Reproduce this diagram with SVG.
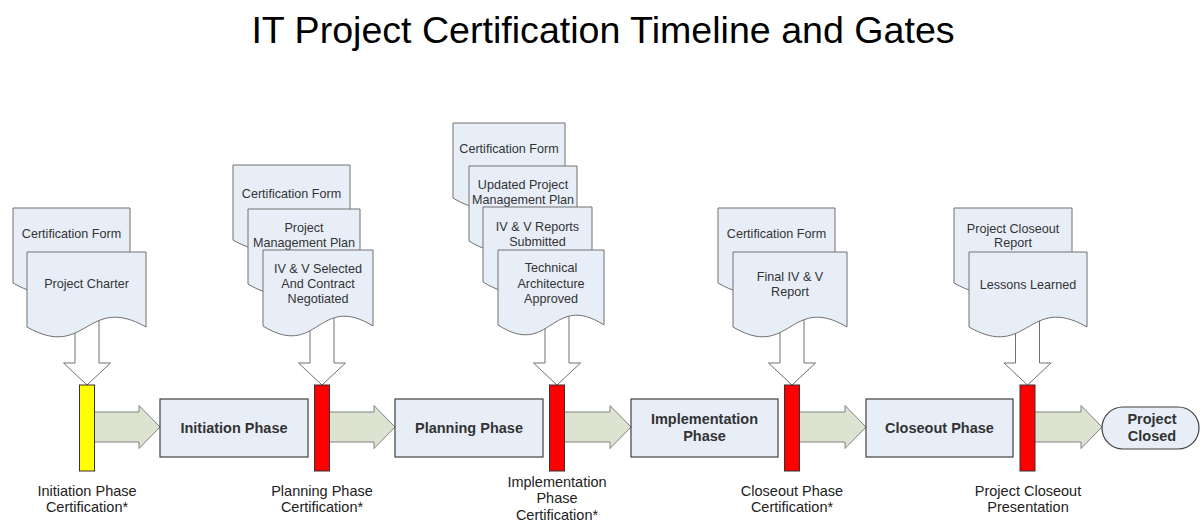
<svg xmlns="http://www.w3.org/2000/svg" width="1201" height="524" viewBox="0 0 1201 524">
<style>
.doc{fill:#E8EEF8;stroke:#707070;stroke-width:1}
.dt{font-family:"Liberation Sans",Arial,sans-serif;font-size:12.6px;fill:#333;text-anchor:middle}
.phase{fill:#E8EEF8;stroke:#404040;stroke-width:1.2}
.pt{font-family:"Liberation Sans",Arial,sans-serif;font-size:14.5px;font-weight:bold;fill:#333;text-anchor:middle}
.gy{fill:#FFFF00;stroke:#333;stroke-width:1}
.gr{fill:#FF0000;stroke:#333;stroke-width:1}
.ga{fill:#DDE3D1;stroke:#808080;stroke-width:1}
.da{fill:#FFFFFF;stroke:#707070;stroke-width:1}
.lbl{font-family:"Liberation Sans",Arial,sans-serif;font-size:14.5px;fill:#222;text-anchor:middle}
.title{font-family:"Liberation Sans",Arial,sans-serif;font-size:37.6px;fill:#000;text-anchor:middle}
</style>
<rect width="1201" height="524" fill="#FFFFFF"/>
<text class="title" x="603" y="43">IT Project Certification Timeline and Gates</text>

<g id="connectors">
  <path class="da" d="M75,300 V363 H63.5 L87,385 L110.5,363 H99 V300 Z"/>
  <path class="da" d="M310,300 V363 H298.5 L322,385 L345.5,363 H334 V300 Z"/>
  <path class="da" d="M545,300 V363 H533.5 L557,385 L580.5,363 H569 V300 Z"/>
  <path class="da" d="M780,300 V363 H768.5 L792,385 L815.5,363 H804 V300 Z"/>
  <path class="da" d="M1015.5,300 V363 H1004 L1027.5,385 L1051,363 H1039.5 V300 Z"/>
  <path class="ga" d="M92,412 H139 V405.5 L160,427 L139,448.5 V442 H92 Z"/>
  <path class="ga" d="M328,412 H374 V405.5 L395,427 L374,448.5 V442 H328 Z"/>
  <path class="ga" d="M562,412 H610 V405.5 L631,427 L610,448.5 V442 H562 Z"/>
  <path class="ga" d="M798,412 H845 V405.5 L866,427 L845,448.5 V442 H798 Z"/>
  <path class="ga" d="M1033,412 H1081 V405.5 L1102,427 L1081,448.5 V442 H1033 Z"/>
</g>

<g id="docs-initiation">
  <path class="doc" d="M13,208 H130 V283 C71.5,249 71.5,317 13,283 Z"/>
  <text class="dt" x="71.5" y="238">Certification Form</text>
  <path class="doc" d="M27,252 H146 V327 C86.5,293 86.5,361 27,327 Z"/>
  <text class="dt" x="86.5" y="288">Project Charter</text>
</g>

<g id="docs-planning">
  <path class="doc" d="M233,165 H350 V240 C291.5,206 291.5,274 233,240 Z"/>
  <text class="dt" x="291.5" y="198">Certification Form</text>
  <path class="doc" d="M248,209 H360 V284 C304,250 304,318 248,284 Z"/>
  <text class="dt" x="304" y="232">Project</text>
  <text class="dt" x="304" y="247">Management Plan</text>
  <path class="doc" d="M263,250 H373 V326 C318,292 318,360 263,326 Z"/>
  <text class="dt" x="318" y="273">IV &amp; V Selected</text>
  <text class="dt" x="318" y="288">And Contract</text>
  <text class="dt" x="318" y="303">Negotiated</text>
</g>

<g id="docs-implementation">
  <path class="doc" d="M453,123 H565 V198 C509,164 509,232 453,198 Z"/>
  <text class="dt" x="509" y="153">Certification Form</text>
  <path class="doc" d="M469,166 H577 V241 C523,207 523,275 469,241 Z"/>
  <text class="dt" x="523" y="189">Updated Project</text>
  <text class="dt" x="523" y="204">Management Plan</text>
  <path class="doc" d="M483,207 H592 V282 C537.5,248 537.5,316 483,282 Z"/>
  <text class="dt" x="537.5" y="231">IV &amp; V Reports</text>
  <text class="dt" x="537.5" y="246">Submitted</text>
  <path class="doc" d="M498,250 H604 V325 C551,291 551,359 498,325 Z"/>
  <text class="dt" x="551" y="272">Technical</text>
  <text class="dt" x="551" y="288">Architecture</text>
  <text class="dt" x="551" y="303">Approved</text>
</g>

<g id="docs-closeout">
  <path class="doc" d="M718,208 H835 V283 C776.5,249 776.5,317 718,283 Z"/>
  <text class="dt" x="776.5" y="238">Certification Form</text>
  <path class="doc" d="M733,252 H847 V327 C790,293 790,361 733,327 Z"/>
  <text class="dt" x="790" y="281">Final IV &amp; V</text>
  <text class="dt" x="790" y="296">Report</text>
</g>

<g id="docs-presentation">
  <path class="doc" d="M954,208 H1072 V283 C1013,249 1013,317 954,283 Z"/>
  <text class="dt" x="1013" y="233">Project Closeout</text>
  <text class="dt" x="1013" y="247">Report</text>
  <path class="doc" d="M969,252 H1087 V327 C1028,293 1028,361 969,327 Z"/>
  <text class="dt" x="1028" y="289">Lessons Learned</text>
</g>

<g id="phase-initiation">
  <rect class="phase" x="160" y="399" width="148" height="58"/>
  <text class="pt" x="234" y="433">Initiation Phase</text>
</g>
<g id="phase-planning">
  <rect class="phase" x="395" y="399" width="148" height="58"/>
  <text class="pt" x="469" y="433">Planning Phase</text>
</g>
<g id="phase-implementation">
  <rect class="phase" x="631" y="399" width="147" height="58"/>
  <text class="pt" x="704.5" y="424">Implementation</text>
  <text class="pt" x="704.5" y="441">Phase</text>
</g>
<g id="phase-closeout">
  <rect class="phase" x="866" y="399" width="147" height="58"/>
  <text class="pt" x="939.5" y="433">Closeout Phase</text>
</g>
<g id="project-closed">
  <rect class="phase" x="1102" y="407" width="97" height="42" rx="21" ry="21"/>
  <text class="pt" x="1152" y="424">Project</text>
  <text class="pt" x="1152" y="441">Closed</text>
</g>

<g id="gate-initiation">
  <rect class="gy" x="79.5" y="385" width="15" height="86"/>
  <text class="lbl" x="87" y="496">Initiation Phase</text>
  <text class="lbl" x="87" y="512">Certification*</text>
</g>
<g id="gate-planning">
  <rect class="gr" x="314.5" y="385" width="15" height="86"/>
  <text class="lbl" x="322" y="496">Planning Phase</text>
  <text class="lbl" x="322" y="512">Certification*</text>
</g>
<g id="gate-implementation">
  <rect class="gr" x="549.5" y="385" width="15" height="86"/>
  <text class="lbl" x="557" y="487">Implementation</text>
  <text class="lbl" x="557" y="503">Phase</text>
  <text class="lbl" x="557" y="520">Certification*</text>
</g>
<g id="gate-closeout">
  <rect class="gr" x="784.5" y="385" width="15" height="86"/>
  <text class="lbl" x="792" y="496">Closeout Phase</text>
  <text class="lbl" x="792" y="512">Certification*</text>
</g>
<g id="gate-presentation">
  <rect class="gr" x="1020" y="385" width="15" height="86"/>
  <text class="lbl" x="1028" y="496">Project Closeout</text>
  <text class="lbl" x="1028" y="512">Presentation</text>
</g>
</svg>
